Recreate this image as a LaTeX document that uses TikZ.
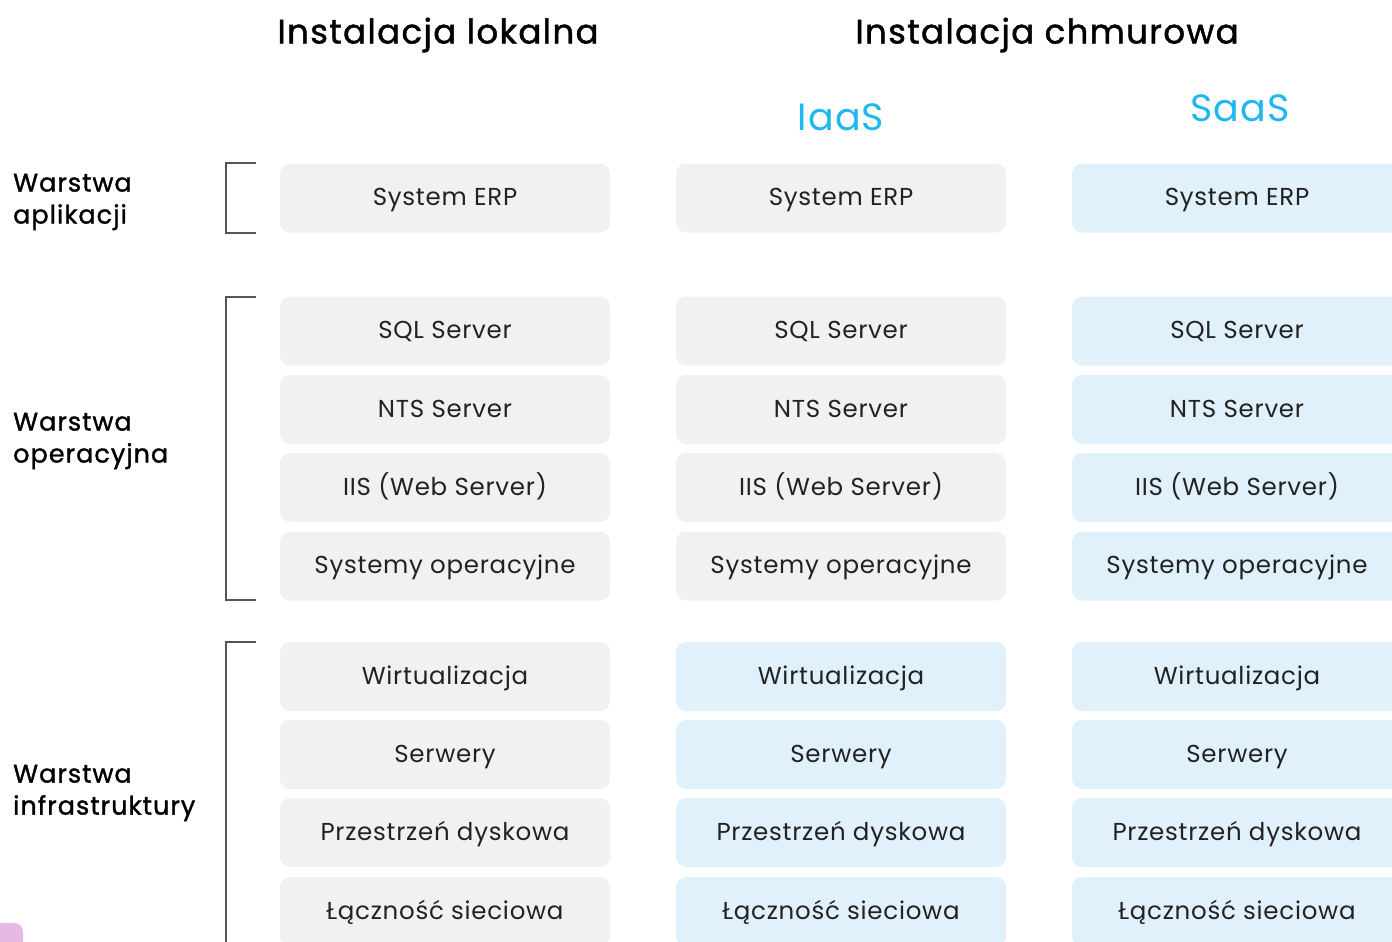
\documentclass[tikz,border=0pt]{standalone}
\usepackage{fontspec}
\setmainfont{Poppins}[LetterSpace=3]
\newfontfamily\medfont{Poppins}[LetterSpace=4, FakeBold=1.3]
\definecolor{boxgray}{HTML}{F2F1F0}
\definecolor{boxblue}{HTML}{E0F1FB}
\definecolor{txt}{HTML}{222222}
\definecolor{accent}{HTML}{1FB8EE}
\definecolor{brk}{HTML}{555555}
\definecolor{pinkish}{HTML}{E8B8E4}
\tikzset{
  cell/.style={minimum width=330pt, minimum height=69pt, rounded corners=10pt, inner sep=0pt, text height=15pt, text depth=0pt, text=txt, font=\fontsize{24.5}{28}\selectfont},
  gcell/.style={cell, fill=boxgray},
  bcell/.style={cell, fill=boxblue},
  layer/.style={anchor=west, align=left, text=black, font=\medfont\fontsize{25.5}{32}\selectfont, inner sep=0pt},
  title/.style={text=black, font=\medfont\fontsize{34}{40}\selectfont, inner sep=0pt},
  svc/.style={text=accent, font=\fontsize{38}{40}\selectfont, inner sep=0pt},
  bracket/.style={draw=brk, line width=1.3pt}
}
\begin{document}
\begin{tikzpicture}[x=1pt,y=-1pt]
\useasboundingbox (0,0) rectangle (1392,942);
\clip (0,0) rectangle (1392,942);
% titles
\node[title] (t1) at (438,35) {Instalacja lokalna};
\node[title] (t2) at (1047,35) {Instalacja chmurowa};
\node[svc] (iaas) at (841,117) {IaaS};
\node[svc] (saas) at (1240,108) {SaaS};
% layer labels
\node[layer] (l1) at (13,202) {Warstwa\\aplikacji};
\node[layer] (l2) at (13,441) {Warstwa\\operacyjna};
\node[layer] (l3) at (13,793) {Warstwa\\infrastruktury};
% brackets
\draw[bracket] (256,163) -| (226,233) -- (256,233);
\draw[bracket] (256,297) -| (226,600) -- (256,600);
\draw[bracket] (256,642) -| (226,960);
% column 1
\node[gcell] (a1) at (445,198) {System ERP};
\node[gcell] (a2) at (445,331) {SQL Server};
\node[gcell] (a3) at (445,409.5) {NTS Server};
\node[gcell] (a4) at (445,487.5) {IIS (Web Server)};
\node[gcell] (a5) at (445,566) {Systemy operacyjne};
\node[gcell] (a6) at (445,676.5) {Wirtualizacja};
\node[gcell] (a7) at (445,754.5) {Serwery};
\node[gcell] (a8) at (445,832.5) {Przestrzeń dyskowa};
\node[gcell] (a9) at (445,911.5) {Łączność sieciowa};
% column 2
\node[gcell] (b1) at (841,198) {System ERP};
\node[gcell] (b2) at (841,331) {SQL Server};
\node[gcell] (b3) at (841,409.5) {NTS Server};
\node[gcell] (b4) at (841,487.5) {IIS (Web Server)};
\node[gcell] (b5) at (841,566) {Systemy operacyjne};
\node[bcell] (b6) at (841,676.5) {Wirtualizacja};
\node[bcell] (b7) at (841,754.5) {Serwery};
\node[bcell] (b8) at (841,832.5) {Przestrzeń dyskowa};
\node[bcell] (b9) at (841,911.5) {Łączność sieciowa};
% column 3
\node[bcell] (c1) at (1237,198) {System ERP};
\node[bcell] (c2) at (1237,331) {SQL Server};
\node[bcell] (c3) at (1237,409.5) {NTS Server};
\node[bcell] (c4) at (1237,487.5) {IIS (Web Server)};
\node[bcell] (c5) at (1237,566) {Systemy operacyjne};
\node[bcell] (c6) at (1237,676.5) {Wirtualizacja};
\node[bcell] (c7) at (1237,754.5) {Serwery};
\node[bcell] (c8) at (1237,832.5) {Przestrzeń dyskowa};
\node[bcell] (c9) at (1237,911.5) {Łączność sieciowa};
% pink corner shape
\fill[pinkish, rounded corners=9pt] (-20,923) rectangle (23,970);
\end{tikzpicture}
\end{document}
